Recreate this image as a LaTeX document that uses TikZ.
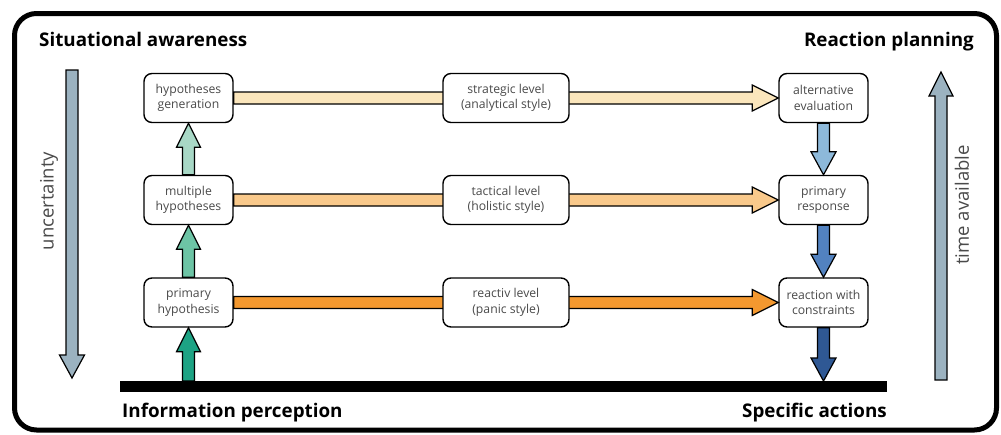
\documentclass[tikz,border=0pt]{standalone}
\usepackage{fontspec}
\setmainfont{Open Sans}
\usetikzlibrary{calc}
\definecolor{txtgray}{HTML}{4A4A4A}
\definecolor{or1}{HTML}{FBE6BC}
\definecolor{or2}{HTML}{F9C98B}
\definecolor{or3}{HTML}{F3982F}
\definecolor{gr1}{HTML}{A8D8C6}
\definecolor{gr2}{HTML}{6DC4A5}
\definecolor{gr3}{HTML}{1DA384}
\definecolor{bl1}{HTML}{8DB9DA}
\definecolor{bl2}{HTML}{5282C0}
\definecolor{bl3}{HTML}{2F5894}
\definecolor{sidegray}{HTML}{9BB2C0}
\tikzset{
  box/.style={draw, line width=1.4pt, rounded corners=8pt, fill=white,
    minimum width=89pt, minimum height=49pt, align=center,
    font=\fontsize{12.2}{15.5}\selectfont, text=txtgray, inner sep=0pt},
  midbox/.style={box, minimum width=126pt},
  arrowline/.style={draw=black, line width=1.2pt, line join=miter},
  title/.style={font=\bfseries\fontsize{18.8}{22}\selectfont, inner sep=0pt},
  sidelabel/.style={font=\fontsize{18.5}{22}\selectfont, rotate=90, inner sep=0pt, text=txtgray},
}
\newcommand\upblock[3]{\draw[arrowline, fill=#3] let \p1=(#1), \p2=(#2) in
  (\x1-6pt,\y1) -- (\x1-6pt,\y2-24pt) -- (\x1-12pt,\y2-24pt) -- (\x1,\y2) --
  (\x1+12pt,\y2-24pt) -- (\x1+6pt,\y2-24pt) -- (\x1+6pt,\y1) -- cycle;}
\newcommand\downblock[3]{\draw[arrowline, fill=#3] let \p1=(#1), \p2=(#2) in
  (\x1-6pt,\y1) -- (\x1-6pt,\y2+23pt) -- (\x1-12.5pt,\y2+23pt) -- (\x1,\y2) --
  (\x1+12.5pt,\y2+23pt) -- (\x1+6pt,\y2+23pt) -- (\x1+6pt,\y1) -- cycle;}
\newcommand\rightblock[3]{\draw[arrowline, fill=#3] let \p1=(#1), \p2=(#2) in
  (\x1,\y1+6pt) -- (\x2-26pt,\y1+6pt) -- (\x2-26pt,\y1+13pt) -- (\x2,\y1) --
  (\x2-26pt,\y1-13pt) -- (\x2-26pt,\y1-6pt) -- (\x1,\y1-6pt) -- cycle;}
\begin{document}
\begin{tikzpicture}[x=1pt,y=-1pt]
\useasboundingbox (0,0) rectangle (1001,434);
\fill[white] (0,0) rectangle (1001,434);
\draw[line width=5pt, rounded corners=22pt] (14.5,13.5) rectangle (996.5,430);

\node[title, anchor=base west] (t1) at (39,46) {Situational awareness};
\node[title, anchor=base east] (t2) at (974,46) {Reaction planning};
\node[title, anchor=base west] (t3) at (122,417) {Information perception};
\node[title, anchor=base east] (t4) at (887,417) {Specific actions};

% side arrows
\coordinate (uTop) at (72,70);
\coordinate (uTip) at (72,378);
\downblock{uTop}{uTip}{sidegray}
\node[sidelabel] (unc) at (49,201) {uncertainty};
\coordinate (tBot) at (941,380);
\coordinate (tTip) at (941,72);
\upblock{tBot}{tTip}{sidegray}
\node[sidelabel] (tav) at (962,205) {time available};

% boxes
\node[box] (hg) at (188.5,98) {hypotheses\\generation};
\node[box] (mh) at (188.5,200) {multiple\\hypotheses};
\node[box] (ph) at (188.5,302.5) {primary\\hypothesis};
\node[box] (ae) at (823.5,98) {alternative\\evaluation};
\node[box] (pr) at (823.5,200) {primary\\response};
\node[box] (rc) at (823.5,302.5) {reaction with\\constraints};

% horizontal arrows
\rightblock{hg.east}{ae.west}{or1}
\rightblock{mh.east}{pr.west}{or2}
\rightblock{ph.east}{rc.west}{or3}

\node[midbox] (sl) at (506,98) {strategic level\\(analytical style)};
\node[midbox] (tl) at (506,200) {tactical level\\(holistic style)};
\node[midbox] (rl) at (506,302.5) {reactiv level\\(panic style)};

% vertical arrows
\coordinate (gIn) at (188.5,381);
\coordinate (bOut) at (823.5,381);
\upblock{gIn}{ph.south}{gr3}
\upblock{ph.north}{mh.south}{gr2}
\upblock{mh.north}{hg.south}{gr1}
\downblock{ae.south}{pr.north}{bl1}
\downblock{pr.south}{rc.north}{bl2}
\downblock{rc.south}{bOut}{bl3}

% base line
\coordinate (baseL) at (120,386.5);
\coordinate (baseR) at (887,386.5);
\draw[line width=11pt] (baseL) -- (baseR);
\end{tikzpicture}
\end{document}
